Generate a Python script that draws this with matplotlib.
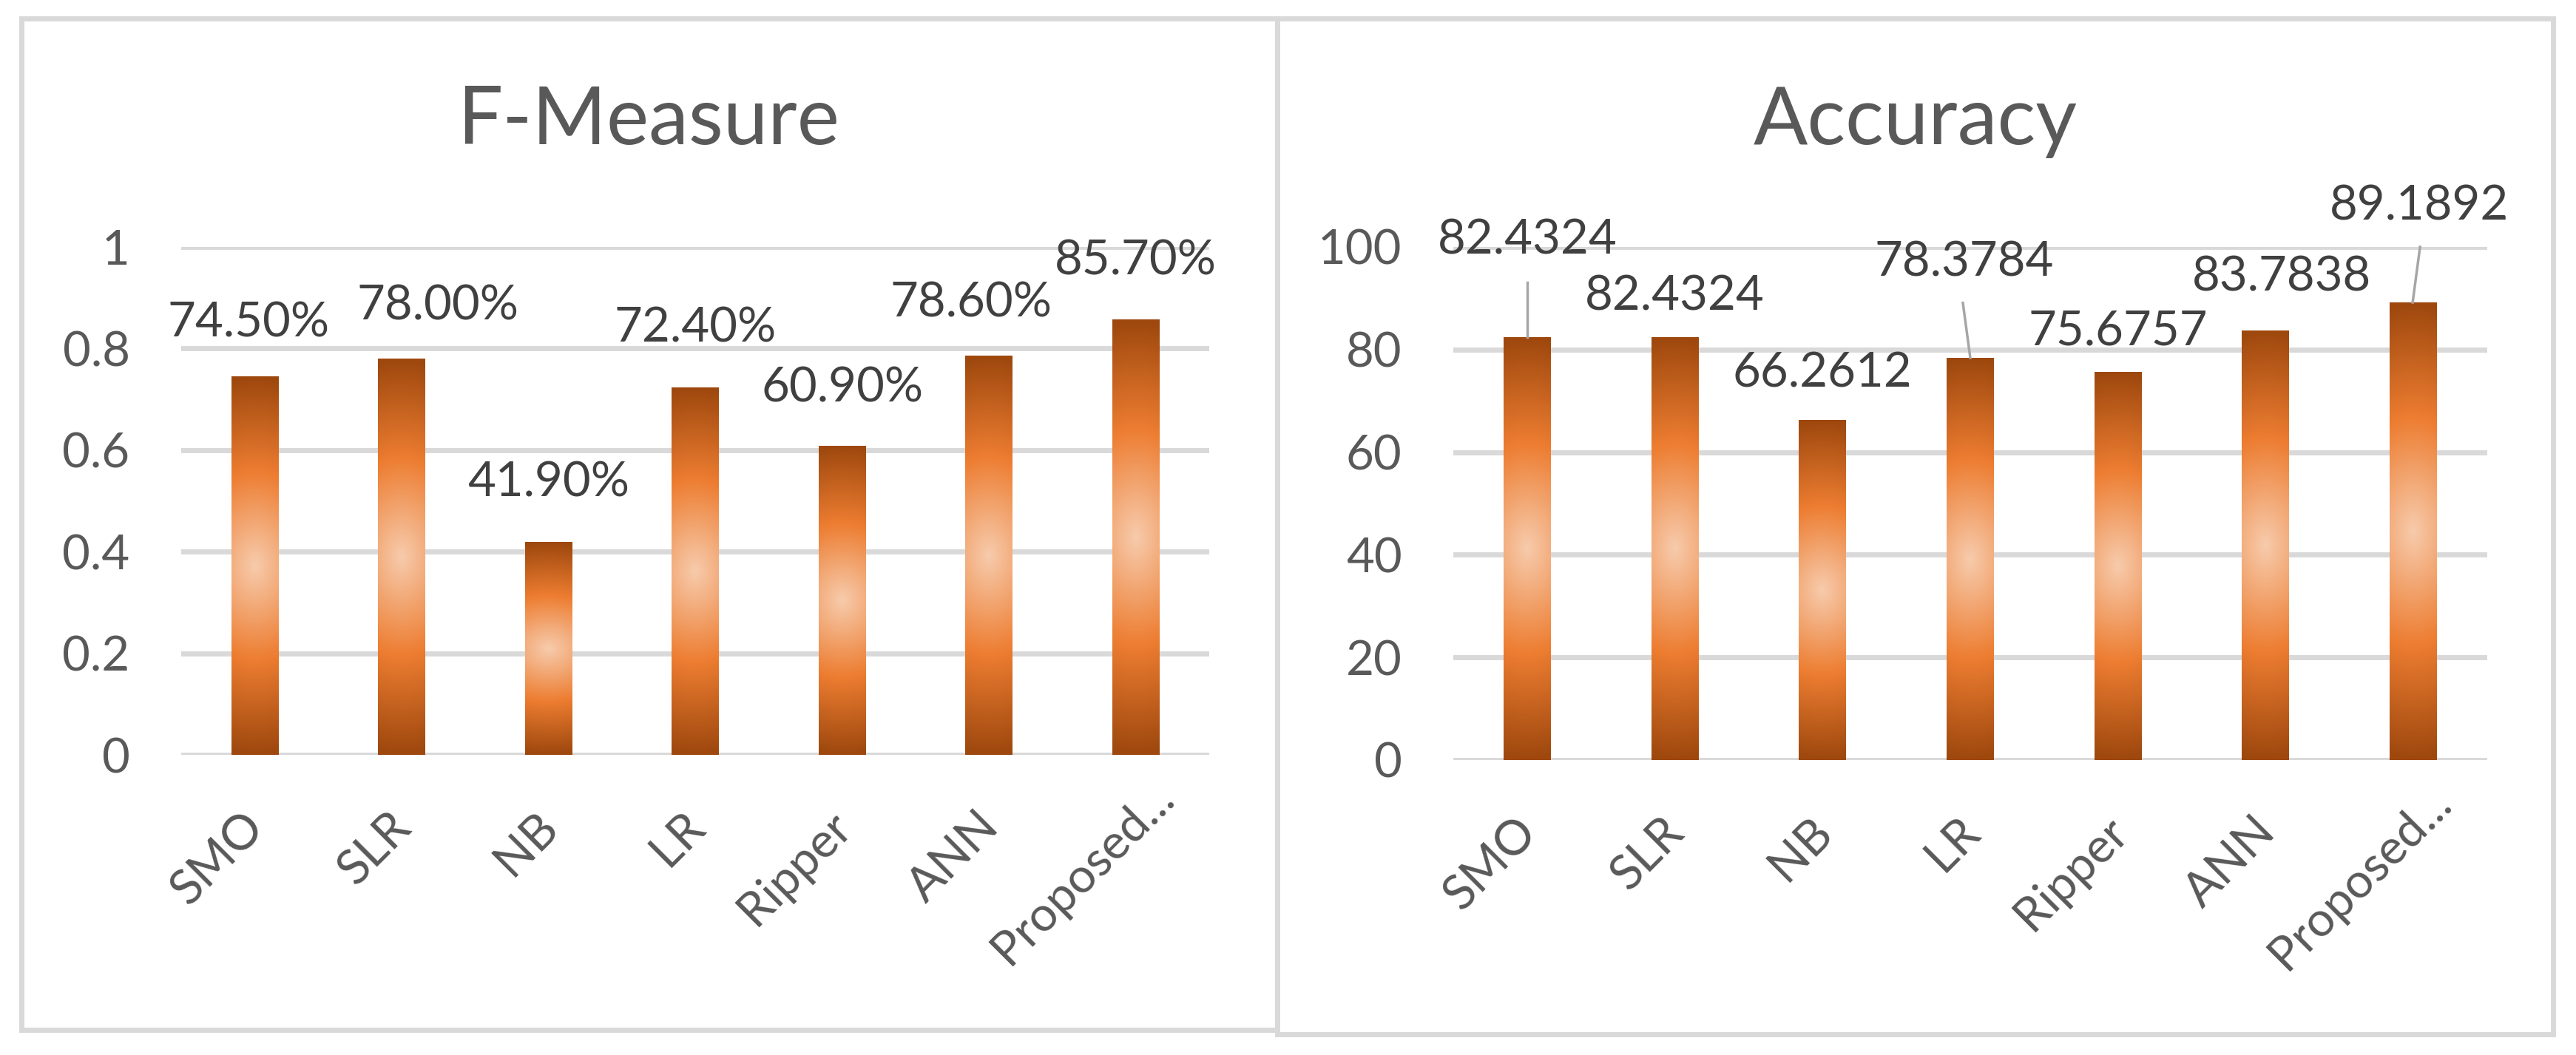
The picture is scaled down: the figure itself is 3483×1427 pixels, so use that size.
import numpy as np
import matplotlib.pyplot as plt
import matplotlib.transforms as mtransforms
from matplotlib.colors import LinearSegmentedColormap
from matplotlib.patches import Rectangle

categories = ['SMO', 'SLR', 'NB', 'LR', 'Ripper', 'ANN', 'Proposed...']
f_measure = [0.745, 0.780, 0.419, 0.724, 0.609, 0.786, 0.857]
accuracy = [82.4324, 82.4324, 66.2612, 78.3784, 75.6757, 83.7838, 89.1892]

f_ticks = [0, 0.2, 0.4, 0.6, 0.8, 1]
f_ticklabels = ['0', '0.2', '0.4', '0.6', '0.8', '1']
acc_ticks = [0, 20, 40, 60, 80, 100]

# data labels were moved by hand in the original sheet
f_label_y = [0.850, 0.883, 0.535, 0.840, 0.722, 0.890, 0.973]
f_label_dx = [-0.04, 0.25, 0, 0, 0, -0.12, 0]
acc_label_y = [101.3, 90.4, 75.4, 97.0, 83.6, 94.1, 107.9]
acc_label_dx = [0, 0, 0, -0.04, 0, 0.11, 0.04]
# leader lines: bar index -> (dx at label end, y at label end, dx at bar)
acc_leaders = {0: (0, 93.1, 0), 3: (-0.05, 89.1, 0.0), 6: (0.045, 100.0, -0.005)}
# extra nudge (inches) of the truncated last category label
cat_nudge = [(0, 0)] * 6 + [(0.38, 0.40)]

W, H = 3483, 1427
FONT = ['Lato', 'DejaVu Sans']
GRID = '#D9D9D9'
TXT = '#595959'
LBL = '#404040'

plt.rcParams['font.family'] = FONT

cmap = LinearSegmentedColormap.from_list(
    'excel', [(0.0, '#F7CBAC'), (0.5, '#ED7D31'), (1.0, '#9E480E')])


def gradient():
    t = np.linspace(0, 1, 300)[:, None]
    x = np.linspace(-1, 1, 40)[None, :]
    d = np.abs(t - 0.5) * 2
    r = np.sqrt(d ** 2 + (0.18 * x) ** 2)
    return np.clip(r, 0, 1)


def draw(ax, values, ticks, ticklabels, ymax):
    x = np.arange(len(values))
    bars = ax.bar(x, values, width=0.32, color='none', zorder=2)
    g = gradient()
    for b in bars:
        x0, w, h = b.get_x(), b.get_width(), b.get_height()
        im = ax.imshow(g, cmap=cmap, vmin=0, vmax=1, origin='lower',
                       extent=(x0, x0 + w, 0, h), aspect='auto',
                       interpolation='bilinear', zorder=2)
        im.set_clip_path(b)
    ax.set_xlim(-0.5, len(values) - 0.5)
    ax.set_ylim(0, ymax)
    ax.set_yticks(ticks, ticklabels)
    ax.set_xticks(x, categories, rotation=45, ha='right', va='center',
                  rotation_mode='anchor')
    ax.tick_params(axis='y', length=0, pad=50, labelsize=47, labelcolor=TXT)
    ax.tick_params(axis='x', length=0, pad=63, labelsize=47, labelcolor=TXT)
    for lab, (nx, ny) in zip(ax.get_xticklabels(), cat_nudge):
        shift = mtransforms.ScaledTranslation(0.03 + nx, ny, fig.dpi_scale_trans)
        lab.set_transform(lab.get_transform() + shift)
    ax.yaxis.grid(True, color=GRID, linewidth=5)
    ax.set_axisbelow(True)
    for s in ax.spines.values():
        s.set_visible(False)
    return x


fig = plt.figure(figsize=(W / 100, H / 100), dpi=100)

# panel frames
for x0, x1, y1 in [(29, 1727, 1393), (1727, 3452, 1399)]:
    fig.add_artist(Rectangle((x0 / W, 1 - y1 / H), (x1 - x0) / W, (y1 - 25) / H,
                             transform=fig.transFigure, fill=False,
                             edgecolor=GRID, linewidth=5))

ax1 = fig.add_axes([245 / W, 1 - 1021 / H, (1635 - 245) / W, (1021 - 334) / H])
ax2 = fig.add_axes([1965 / W, 1 - 1028 / H, (3363 - 1965) / W, (1028 - 334) / H])

x = draw(ax1, f_measure, f_ticks, f_ticklabels, 1)
for i, v in enumerate(f_measure):
    ax1.text(x[i] + f_label_dx[i], f_label_y[i], f'{v * 100:.2f}%',
             ha='center', va='center', fontsize=47, color=LBL, clip_on=False)

x = draw(ax2, accuracy, acc_ticks, [str(t) for t in acc_ticks], 100)
for i, v in enumerate(accuracy):
    ax2.text(x[i] + acc_label_dx[i], acc_label_y[i], f'{v:.4f}',
             ha='center', va='center', fontsize=47, color=LBL, clip_on=False)
for i, (dx_top, y_top, dx_bar) in acc_leaders.items():
    ax2.plot([x[i] + dx_top, x[i] + dx_bar], [y_top, accuracy[i]],
             color='#A6A6A6', linewidth=2.5, zorder=3, clip_on=False)

fig.text(877 / W, 1 - 164 / H, 'F-Measure', ha='center', va='center',
         fontsize=78, color=TXT)
fig.text(2590 / W, 1 - 164 / H, 'Accuracy', ha='center', va='center',
         fontsize=78, color=TXT)

fig.savefig('out.png', dpi=100, facecolor='white')
